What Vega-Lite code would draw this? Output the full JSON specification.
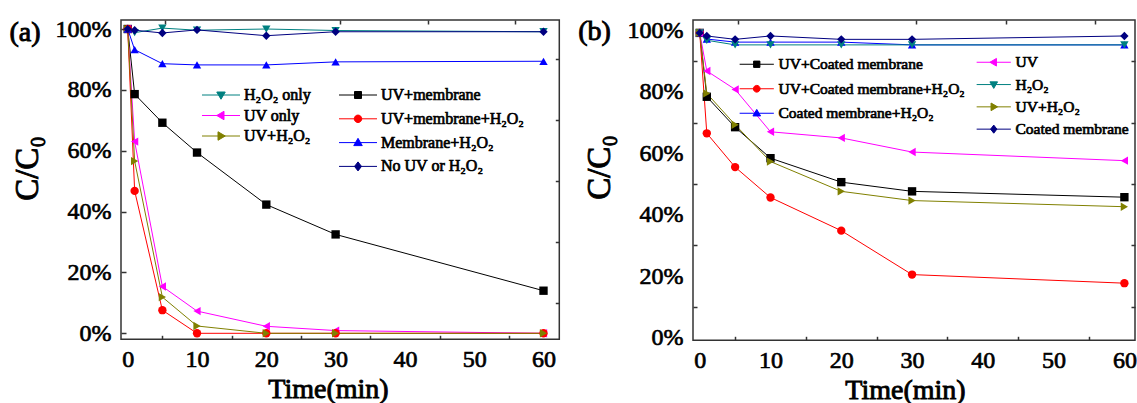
{
  "$schema": "https://vega.github.io/schema/vega-lite/v6.json",
  "background": "white",
  "padding": {"left": 8, "top": 16, "right": 0, "bottom": 0},
  "config": {
    "view": {"stroke": "#333333", "strokeWidth": 1.5},
    "font": "Liberation Serif",
    "style": {
      "guide-label": {"font": "Liberation Serif", "fontWeight": "normal", "stroke": "black", "strokeWidth": 0.7},
      "guide-title": {"font": "Liberation Serif", "fontWeight": "normal", "stroke": "black", "strokeWidth": 0.9}
    },
    "axis": {"labelFont": "Liberation Serif", "titleFont": "Liberation Serif", "labelFontWeight": "normal", "titleFontWeight": "normal", "labelColor": "black", "titleColor": "black", "grid": false, "domain": false, "tickColor": "#333333", "tickWidth": 1.5, "labelFlush": false, "labelOverlap": false},
    "legend": {"labelFont": "Liberation Serif", "labelFontWeight": "normal", "labelColor": "black", "labelLimit": 0, "symbolStrokeWidth": 1, "padding": 0, "offset": 0, "title": null},
    "concat": {"spacing": 15}
  },
  "datasets": {
    "a": [
      {"s": "H₂O₂ only", "t": 0, "v": 100}, {"s": "H₂O₂ only", "t": 1, "v": 98.8}, {"s": "H₂O₂ only", "t": 5, "v": 100.3}, {"s": "H₂O₂ only", "t": 10, "v": 99.6}, {"s": "H₂O₂ only", "t": 20, "v": 100}, {"s": "H₂O₂ only", "t": 30, "v": 99.5}, {"s": "H₂O₂ only", "t": 60, "v": 99.1},
      {"s": "UV+membrane", "t": 0, "v": 100}, {"s": "UV+membrane", "t": 1, "v": 78.6}, {"s": "UV+membrane", "t": 5, "v": 69.2}, {"s": "UV+membrane", "t": 10, "v": 59.4}, {"s": "UV+membrane", "t": 20, "v": 42.3}, {"s": "UV+membrane", "t": 30, "v": 32.5}, {"s": "UV+membrane", "t": 60, "v": 14},
      {"s": "UV only", "t": 0, "v": 100}, {"s": "UV only", "t": 1, "v": 63}, {"s": "UV only", "t": 5, "v": 15.4}, {"s": "UV only", "t": 10, "v": 7.3}, {"s": "UV only", "t": 20, "v": 2.3}, {"s": "UV only", "t": 30, "v": 0.9}, {"s": "UV only", "t": 60, "v": 0},
      {"s": "UV+membrane+H₂O₂", "t": 0, "v": 100}, {"s": "UV+membrane+H₂O₂", "t": 1, "v": 46.8}, {"s": "UV+membrane+H₂O₂", "t": 5, "v": 7.6}, {"s": "UV+membrane+H₂O₂", "t": 10, "v": 0}, {"s": "UV+membrane+H₂O₂", "t": 20, "v": 0}, {"s": "UV+membrane+H₂O₂", "t": 30, "v": 0}, {"s": "UV+membrane+H₂O₂", "t": 60, "v": 0},
      {"s": "UV+H₂O₂", "t": 0, "v": 100}, {"s": "UV+H₂O₂", "t": 1, "v": 56.6}, {"s": "UV+H₂O₂", "t": 5, "v": 11.9}, {"s": "UV+H₂O₂", "t": 10, "v": 2.4}, {"s": "UV+H₂O₂", "t": 20, "v": 0}, {"s": "UV+H₂O₂", "t": 30, "v": 0}, {"s": "UV+H₂O₂", "t": 60, "v": 0},
      {"s": "Membrane+H₂O₂", "t": 0, "v": 100}, {"s": "Membrane+H₂O₂", "t": 1, "v": 93.2}, {"s": "Membrane+H₂O₂", "t": 5, "v": 88.6}, {"s": "Membrane+H₂O₂", "t": 10, "v": 88.2}, {"s": "Membrane+H₂O₂", "t": 20, "v": 88.2}, {"s": "Membrane+H₂O₂", "t": 30, "v": 89.2}, {"s": "Membrane+H₂O₂", "t": 60, "v": 89.4},
      {"s": "No UV or H₂O₂", "t": 0, "v": 100}, {"s": "No UV or H₂O₂", "t": 1, "v": 99.6}, {"s": "No UV or H₂O₂", "t": 5, "v": 98.7}, {"s": "No UV or H₂O₂", "t": 10, "v": 99.7}, {"s": "No UV or H₂O₂", "t": 20, "v": 97.8}, {"s": "No UV or H₂O₂", "t": 30, "v": 99.1}, {"s": "No UV or H₂O₂", "t": 60, "v": 99.1}
    ],
    "b": [
      {"s": "UV+Coated membrane", "t": 0, "v": 99.2}, {"s": "UV+Coated membrane", "t": 1, "v": 78.4}, {"s": "UV+Coated membrane", "t": 5, "v": 68.5}, {"s": "UV+Coated membrane", "t": 10, "v": 58.4}, {"s": "UV+Coated membrane", "t": 20, "v": 50.6}, {"s": "UV+Coated membrane", "t": 30, "v": 47.6}, {"s": "UV+Coated membrane", "t": 60, "v": 45.7},
      {"s": "UV+Coated membrane+H₂O₂", "t": 0, "v": 99.2}, {"s": "UV+Coated membrane+H₂O₂", "t": 1, "v": 66.5}, {"s": "UV+Coated membrane+H₂O₂", "t": 5, "v": 55.5}, {"s": "UV+Coated membrane+H₂O₂", "t": 10, "v": 45.6}, {"s": "UV+Coated membrane+H₂O₂", "t": 20, "v": 34.8}, {"s": "UV+Coated membrane+H₂O₂", "t": 30, "v": 20.5}, {"s": "UV+Coated membrane+H₂O₂", "t": 60, "v": 17.7},
      {"s": "Coated membrane+H₂O₂", "t": 0, "v": 99.2}, {"s": "Coated membrane+H₂O₂", "t": 1, "v": 97.2}, {"s": "Coated membrane+H₂O₂", "t": 5, "v": 96.2}, {"s": "Coated membrane+H₂O₂", "t": 10, "v": 96.2}, {"s": "Coated membrane+H₂O₂", "t": 20, "v": 96.2}, {"s": "Coated membrane+H₂O₂", "t": 30, "v": 95.3}, {"s": "Coated membrane+H₂O₂", "t": 60, "v": 95.3},
      {"s": "UV", "t": 0, "v": 99.2}, {"s": "UV", "t": 1, "v": 86.8}, {"s": "UV", "t": 5, "v": 80.8}, {"s": "UV", "t": 10, "v": 67}, {"s": "UV", "t": 20, "v": 65}, {"s": "UV", "t": 30, "v": 60.4}, {"s": "UV", "t": 60, "v": 57.6},
      {"s": "H₂O₂", "t": 0, "v": 99.2}, {"s": "H₂O₂", "t": 1, "v": 96.8}, {"s": "H₂O₂", "t": 5, "v": 95.3}, {"s": "H₂O₂", "t": 10, "v": 95.3}, {"s": "H₂O₂", "t": 20, "v": 95.3}, {"s": "H₂O₂", "t": 30, "v": 95.3}, {"s": "H₂O₂", "t": 60, "v": 95.3},
      {"s": "UV+H₂O₂", "t": 0, "v": 99.2}, {"s": "UV+H₂O₂", "t": 1, "v": 79.5}, {"s": "UV+H₂O₂", "t": 5, "v": 69.3}, {"s": "UV+H₂O₂", "t": 10, "v": 57.3}, {"s": "UV+H₂O₂", "t": 20, "v": 47.6}, {"s": "UV+H₂O₂", "t": 30, "v": 44.6}, {"s": "UV+H₂O₂", "t": 60, "v": 42.6},
      {"s": "Coated membrane", "t": 0, "v": 99.2}, {"s": "Coated membrane", "t": 1, "v": 98.2}, {"s": "Coated membrane", "t": 5, "v": 97.1}, {"s": "Coated membrane", "t": 10, "v": 98.2}, {"s": "Coated membrane", "t": 20, "v": 97.1}, {"s": "Coated membrane", "t": 30, "v": 97.1}, {"s": "Coated membrane", "t": 60, "v": 98.2}
    ]
  },
  "hconcat": [
    {
      "width": 438.3,
      "height": 319.3,
      "data": {"name": "a"},
      "layer": [
        {
          "mark": {"type": "line", "strokeWidth": 1},
          "encoding": {
            "x": {"field": "t", "type": "quantitative", "scale": {"domain": [-0.97, 62.28], "nice": false, "zero": false},
              "axis": {"orient": "bottom", "values": [0, 5, 10, 15, 20, 25, 30, 35, 40, 45, 50, 55, 60], "labelExpr": "datum.value % 10 === 0 ? datum.label : ''", "tickOpacity": {"condition": {"test": "datum.value % 10 === 0", "value": 0}, "value": 1}, "tickSize": -4, "labelPadding": 12, "labelFontSize": 24, "title": "Time(min)", "titleFontSize": 28, "titleX": 207, "titleY": 50, "titleAlign": "center", "titleBaseline": "middle"}},
            "y": {"field": "v", "type": "quantitative", "scale": {"domain": [-1.97, 102.96], "nice": false, "zero": false},
              "axis": {"orient": "left", "values": [0, 20, 40, 60, 80, 100], "labelExpr": "datum.value + '%'", "tickSize": -5, "labelPadding": 15, "labelFontSize": 24, "title": "C/C₀", "titleFontSize": 33, "titleX": -93.5, "titleY": 148, "titleAlign": "center", "titleBaseline": "middle"}},
            "color": {"field": "s", "type": "nominal", "legend": null, "scale": {"domain": ["H₂O₂ only", "UV+membrane", "UV only", "UV+membrane+H₂O₂", "UV+H₂O₂", "Membrane+H₂O₂", "No UV or H₂O₂"], "range": ["#008080", "#000000", "#ff00ff", "#ff0000", "#808000", "#0000ff", "#000080"]}},
            "order": {"field": "t", "type": "quantitative"}
          }
        },
        {
          "mark": {"type": "point", "filled": true, "opacity": 1, "size": 70},
          "encoding": {
            "x": {"field": "t", "type": "quantitative", "axis": {"orient": "top", "values": [5.4, 30.6, 43.3, 55.9], "labels": false, "tickSize": -4, "title": "(a)", "titleX": -112, "titleY": 12, "titleAngle": 0, "titleAlign": "left", "titleBaseline": "middle", "titleFontSize": 28}},
            "y": {"field": "v", "type": "quantitative", "axis": {"orient": "right", "values": [10, 30, 50, 70, 90], "labels": false, "title": null, "tickSize": -4}},
            "color": {"field": "s", "type": "nominal", "legend": null, "scale": {"domain": ["H₂O₂ only", "UV+membrane", "UV only", "UV+membrane+H₂O₂", "UV+H₂O₂", "Membrane+H₂O₂", "No UV or H₂O₂"], "range": ["#008080", "#000000", "#ff00ff", "#ff0000", "#808000", "#0000ff", "#000080"]}},
            "shape": {"field": "s", "type": "nominal", "legend": null, "scale": {"domain": ["H₂O₂ only", "UV+membrane", "UV only", "UV+membrane+H₂O₂", "UV+H₂O₂", "Membrane+H₂O₂", "No UV or H₂O₂"], "range": ["triangle-down", "square", "triangle-left", "circle", "triangle-right", "triangle-up", "diamond"]}}
          }
        },
        {
          "transform": [{"filter": "datum.t < -100"}],
          "mark": {"type": "point", "filled": true, "opacity": 1},
          "encoding": {
            "x": {"field": "t", "type": "quantitative", "axis": null},
            "y": {"field": "v", "type": "quantitative", "axis": null},
            "fill": {"field": "s", "type": "nominal", "scale": {"domain": ["H₂O₂ only", "UV only", "UV+H₂O₂"], "range": ["#008080", "#ff00ff", "#808000"]}, "legend": {"orient": "none", "legendX": 92, "legendY": 67, "symbolSize": 100, "labelOffset": 15, "labelFontSize": 16, "rowPadding": 4.5, "symbolOpacity": 1}},
            "stroke": {"field": "s", "type": "nominal", "scale": {"domain": ["H₂O₂ only", "UV only", "UV+H₂O₂"], "range": ["#008080", "#ff00ff", "#808000"]}, "legend": {"orient": "none", "legendX": 92, "legendY": 67, "symbolSize": 100, "labelOffset": 15, "labelFontSize": 16, "rowPadding": 4.5, "symbolOpacity": 1}},
            "shape": {"field": "s", "type": "nominal", "scale": {"domain": ["H₂O₂ only", "UV only", "UV+H₂O₂"], "range": ["M-3.8,0H3.8M0,0.85L0.85,-0.6L-0.85,-0.6Z", "M-3.8,0H3.8M-0.85,0L0.6,-0.85L0.6,0.85Z", "M-3.8,0H3.8M0.85,0L-0.6,-0.85L-0.6,0.85Z"]}, "legend": {"orient": "none", "legendX": 92, "legendY": 67, "symbolSize": 100, "labelOffset": 15, "labelFontSize": 16, "rowPadding": 4.5, "symbolOpacity": 1}}
          }
        },
        {
          "transform": [{"filter": "datum.t < -100"}],
          "mark": {"type": "point", "filled": true, "opacity": 1},
          "encoding": {
            "x": {"field": "t", "type": "quantitative", "axis": null},
            "y": {"field": "v", "type": "quantitative", "axis": null},
            "fill": {"field": "s", "type": "nominal", "scale": {"domain": ["UV+membrane", "UV+membrane+H₂O₂", "Membrane+H₂O₂", "No UV or H₂O₂"], "range": ["#000000", "#ff0000", "#0000ff", "#000080"]}, "legend": {"orient": "none", "legendX": 229, "legendY": 67, "symbolSize": 100, "labelOffset": 15, "labelFontSize": 16, "rowPadding": 7.8, "symbolOpacity": 1}},
            "stroke": {"field": "s", "type": "nominal", "scale": {"domain": ["UV+membrane", "UV+membrane+H₂O₂", "Membrane+H₂O₂", "No UV or H₂O₂"], "range": ["#000000", "#ff0000", "#0000ff", "#000080"]}, "legend": {"orient": "none", "legendX": 229, "legendY": 67, "symbolSize": 100, "labelOffset": 15, "labelFontSize": 16, "rowPadding": 7.8, "symbolOpacity": 1}},
            "shape": {"field": "s", "type": "nominal", "scale": {"domain": ["UV+membrane", "UV+membrane+H₂O₂", "Membrane+H₂O₂", "No UV or H₂O₂"], "range": ["M-3.8,0H3.8M-0.7,-0.7H0.7V0.7H-0.7Z", "M-3.8,0H3.8M0.75,0A0.75,0.75,0,1,1,-0.75,0A0.75,0.75,0,1,1,0.75,0Z", "M-3.8,0H3.8M0,-0.85L0.85,0.6L-0.85,0.6Z", "M-3.8,0H3.8M0,-0.9L0.7,0L0,0.9L-0.7,0Z"]}, "legend": {"orient": "none", "legendX": 229, "legendY": 67, "symbolSize": 100, "labelOffset": 15, "labelFontSize": 16, "rowPadding": 7.8, "symbolOpacity": 1}}
          }
        }
      ],
      "resolve": {
        "scale": {"color": "independent", "shape": "independent", "fill": "independent", "stroke": "independent"},
        "axis": {"x": "independent", "y": "independent"},
        "legend": {"color": "independent", "shape": "independent", "fill": "independent", "stroke": "independent"}
      }
    },
    {
      "width": 442,
      "height": 320.3,
      "data": {"name": "b"},
      "layer": [
        {
          "mark": {"type": "line", "strokeWidth": 1},
          "encoding": {
            "x": {"field": "t", "type": "quantitative", "scale": {"domain": [-0.95, 61.5], "nice": false, "zero": false},
              "axis": {"orient": "bottom", "values": [0, 5, 10, 15, 20, 25, 30, 35, 40, 45, 50, 55, 60], "labelExpr": "datum.value % 10 === 0 ? datum.label : ''", "tickOpacity": {"condition": {"test": "datum.value % 10 === 0", "value": 0}, "value": 1}, "tickSize": -4, "labelPadding": 12, "labelFontSize": 24, "title": "Time(min)", "titleFontSize": 28, "titleX": 212, "titleY": 50, "titleAlign": "center", "titleBaseline": "middle"}},
            "y": {"field": "v", "type": "quantitative", "scale": {"domain": [-0.9, 103.4], "nice": false, "zero": false},
              "axis": {"orient": "left", "values": [0, 10, 20, 30, 40, 50, 60, 70, 80, 90, 100], "labelExpr": "datum.value % 20 === 0 ? datum.value + '%' : ''", "tickOpacity": {"condition": {"test": "datum.value % 20 === 0", "value": 0}, "value": 1}, "tickSize": -4, "labelPadding": 14, "labelFontSize": 24, "title": "C/C₀", "titleFontSize": 33, "titleX": -93.3, "titleY": 147, "titleAlign": "center", "titleBaseline": "middle"}},
            "color": {"field": "s", "type": "nominal", "legend": null, "scale": {"domain": ["UV+Coated membrane", "UV+Coated membrane+H₂O₂", "Coated membrane+H₂O₂", "UV", "H₂O₂", "UV+H₂O₂", "Coated membrane"], "range": ["#000000", "#ff0000", "#0000ff", "#ff00ff", "#008080", "#808000", "#000080"]}},
            "order": {"field": "t", "type": "quantitative"}
          }
        },
        {
          "mark": {"type": "point", "filled": true, "opacity": 1, "size": 70},
          "encoding": {
            "x": {"field": "t", "type": "quantitative", "axis": {"orient": "top", "values": [5.4, 30.6, 43.3, 55.9], "labels": false, "tickSize": -4, "title": "(b)", "titleX": -115.3, "titleY": 11, "titleAngle": 0, "titleAlign": "left", "titleBaseline": "middle", "titleFontSize": 28}},
            "y": {"field": "v", "type": "quantitative", "axis": {"orient": "right", "values": [10, 30, 50, 70, 90], "labels": false, "title": null, "tickSize": -4}},
            "color": {"field": "s", "type": "nominal", "legend": null, "scale": {"domain": ["UV+Coated membrane", "UV+Coated membrane+H₂O₂", "Coated membrane+H₂O₂", "UV", "H₂O₂", "UV+H₂O₂", "Coated membrane"], "range": ["#000000", "#ff0000", "#0000ff", "#ff00ff", "#008080", "#808000", "#000080"]}},
            "shape": {"field": "s", "type": "nominal", "legend": null, "scale": {"domain": ["UV+Coated membrane", "UV+Coated membrane+H₂O₂", "Coated membrane+H₂O₂", "UV", "H₂O₂", "UV+H₂O₂", "Coated membrane"], "range": ["square", "circle", "triangle-up", "triangle-left", "triangle-down", "triangle-right", "diamond"]}}
          }
        },
        {
          "transform": [{"filter": "datum.t < -100"}],
          "mark": {"type": "point", "filled": true, "opacity": 1},
          "encoding": {
            "x": {"field": "t", "type": "quantitative", "axis": null},
            "y": {"field": "v", "type": "quantitative", "axis": null},
            "fill": {"field": "s", "type": "nominal", "scale": {"domain": ["UV+Coated membrane", "UV+Coated membrane+H₂O₂", "Coated membrane+H₂O₂"], "range": ["#000000", "#ff0000", "#0000ff"]}, "legend": {"orient": "none", "legendX": 56, "legendY": 36.5, "symbolSize": 81, "labelOffset": 14, "labelFontSize": 15.5, "rowPadding": 7.5, "symbolOpacity": 1}},
            "stroke": {"field": "s", "type": "nominal", "scale": {"domain": ["UV+Coated membrane", "UV+Coated membrane+H₂O₂", "Coated membrane+H₂O₂"], "range": ["#000000", "#ff0000", "#0000ff"]}, "legend": {"orient": "none", "legendX": 56, "legendY": 36.5, "symbolSize": 81, "labelOffset": 14, "labelFontSize": 15.5, "rowPadding": 7.5, "symbolOpacity": 1}},
            "shape": {"field": "s", "type": "nominal", "scale": {"domain": ["UV+Coated membrane", "UV+Coated membrane+H₂O₂", "Coated membrane+H₂O₂"], "range": ["M-3.8,0H3.8M-0.7,-0.7H0.7V0.7H-0.7Z", "M-3.8,0H3.8M0.75,0A0.75,0.75,0,1,1,-0.75,0A0.75,0.75,0,1,1,0.75,0Z", "M-3.8,0H3.8M0,-0.85L0.85,0.6L-0.85,0.6Z"]}, "legend": {"orient": "none", "legendX": 56, "legendY": 36.5, "symbolSize": 81, "labelOffset": 14, "labelFontSize": 15.5, "rowPadding": 7.5, "symbolOpacity": 1}}
          }
        },
        {
          "transform": [{"filter": "datum.t < -100"}],
          "mark": {"type": "point", "filled": true, "opacity": 1},
          "encoding": {
            "x": {"field": "t", "type": "quantitative", "axis": null},
            "y": {"field": "v", "type": "quantitative", "axis": null},
            "fill": {"field": "s", "type": "nominal", "scale": {"domain": ["UV", "H₂O₂", "UV+H₂O₂", "Coated membrane"], "range": ["#ff00ff", "#008080", "#808000", "#000080"]}, "legend": {"orient": "none", "legendX": 293, "legendY": 34.5, "symbolSize": 81, "labelOffset": 14, "labelFontSize": 15.5, "rowPadding": 5.3, "symbolOpacity": 1}},
            "stroke": {"field": "s", "type": "nominal", "scale": {"domain": ["UV", "H₂O₂", "UV+H₂O₂", "Coated membrane"], "range": ["#ff00ff", "#008080", "#808000", "#000080"]}, "legend": {"orient": "none", "legendX": 293, "legendY": 34.5, "symbolSize": 81, "labelOffset": 14, "labelFontSize": 15.5, "rowPadding": 5.3, "symbolOpacity": 1}},
            "shape": {"field": "s", "type": "nominal", "scale": {"domain": ["UV", "H₂O₂", "UV+H₂O₂", "Coated membrane"], "range": ["M-3.8,0H3.8M-0.85,0L0.6,-0.85L0.6,0.85Z", "M-3.8,0H3.8M0,0.85L0.85,-0.6L-0.85,-0.6Z", "M-3.8,0H3.8M0.85,0L-0.6,-0.85L-0.6,0.85Z", "M-3.8,0H3.8M0,-0.9L0.7,0L0,0.9L-0.7,0Z"]}, "legend": {"orient": "none", "legendX": 293, "legendY": 34.5, "symbolSize": 81, "labelOffset": 14, "labelFontSize": 15.5, "rowPadding": 5.3, "symbolOpacity": 1}}
          }
        }
      ],
      "resolve": {
        "scale": {"color": "independent", "shape": "independent", "fill": "independent", "stroke": "independent"},
        "axis": {"x": "independent", "y": "independent"},
        "legend": {"color": "independent", "shape": "independent", "fill": "independent", "stroke": "independent"}
      }
    }
  ]
}
